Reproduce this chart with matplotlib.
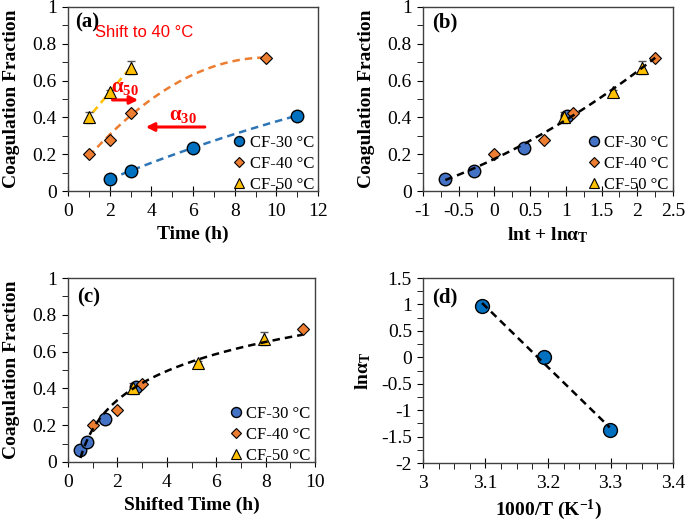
import numpy as np
import matplotlib
matplotlib.use("Agg")
import matplotlib.pyplot as plt
from matplotlib.ticker import MultipleLocator

plt.rcParams["font.family"] = ["Liberation Serif", "DejaVu Serif"]
plt.rcParams["mathtext.fontset"] = "custom"
plt.rcParams["mathtext.rm"] = "Liberation Serif"
plt.rcParams["mathtext.it"] = "Liberation Serif:italic"
plt.rcParams["mathtext.bf"] = "Liberation Serif:bold"

# raw coagulation data (time in h)
t30 = np.array([2, 3, 6, 11])
cf30 = np.array([0.065, 0.11, 0.235, 0.41])
t40 = np.array([1, 2, 3, 9.5])
cf40 = np.array([0.2, 0.28, 0.425, 0.725])
t50 = np.array([1, 2, 3])
cf50 = np.array([0.4, 0.54, 0.67])
err50 = np.array([0.03, 0.01, 0.035])

# shift factors (ln aT), reference 40 C
temps = np.array([30, 40, 50])
ln_aT = np.array([-1.38, 0.0, 0.97])

blue = "#0070C0"
blue2 = "#4472C4"
orange = "#ED7D31"
yellow = "#FFC000"
red = "#FF0000"

lab_fs = 14
tick_fs = 14
leg_fs = 12
dash = (0, (3, 2))


def style_axis(ax, xmaj, xmin, ymaj, ymin):
    ax.xaxis.set_major_locator(MultipleLocator(xmaj))
    ax.xaxis.set_minor_locator(MultipleLocator(xmin))
    ax.yaxis.set_major_locator(MultipleLocator(ymaj))
    ax.yaxis.set_minor_locator(MultipleLocator(ymin))
    ax.tick_params(axis="x", which="major", direction="inout", length=7,
                   labelsize=tick_fs, pad=5)
    ax.tick_params(axis="x", which="minor", direction="out", length=4)
    ax.tick_params(axis="y", which="both", direction="out", length=4,
                   labelsize=tick_fs, pad=4)
    for sp in ax.spines.values():
        sp.set_color("#404040")
        sp.set_linewidth(1)
    ax.xaxis.set_major_formatter(plt.FuncFormatter(lambda v, p: "%g" % v))
    ax.yaxis.set_major_formatter(plt.FuncFormatter(lambda v, p: "%g" % v))


def scatter_sets(ax, x30, x40, x50, c30):
    ax.plot(x30, cf30, "o", ms=9, mfc=c30, mec="black", mew=1,
            label="CF-30 °C", zorder=3)
    ax.plot(x40, cf40, "D", ms=6.5, mfc=orange, mec="black", mew=0.8,
            label="CF-40 °C", zorder=3)
    ax.errorbar(x50, cf50, yerr=err50, fmt="none", ecolor="#555555",
                elinewidth=1, capsize=3, zorder=2.5)
    ax.plot(x50, cf50, "^", ms=8.5, mfc=yellow, mec="black", mew=0.8,
            label="CF-50 °C", zorder=3)


def legend(ax):
    ax.legend(loc="lower right", bbox_to_anchor=(1.03, -0.075),
              frameon=False, fontsize=leg_fs, borderpad=0.2,
              handletextpad=0.05, labelspacing=0.3, handlelength=1.2,
              markerscale=0.8)


fig = plt.figure(figsize=(6.85, 5.22), dpi=100)
ax_a = fig.add_axes([0.0993, 0.634, 0.365, 0.3526])
ax_b = fig.add_axes([0.6175, 0.634, 0.365, 0.3526])
ax_c = fig.add_axes([0.0993, 0.115, 0.3606, 0.3524])
ax_d = fig.add_axes([0.6175, 0.113, 0.365, 0.3544])

# (a) raw data with trendlines
scatter_sets(ax_a, t30, t40, t50, blue)
p30 = np.polyfit(t30, cf30, 2)
p40 = np.polyfit(t40, cf40, 2)
p50 = np.polyfit(t50, cf50, 1)
xx = np.linspace(t30.min(), t30.max(), 100)
ax_a.plot(xx, np.polyval(p30, xx), color="#2E75B6", lw=1.8, ls=dash, zorder=2)
xx = np.linspace(t40.min(), t40.max(), 100)
ax_a.plot(xx, np.polyval(p40, xx), color=orange, lw=1.8, ls=dash, zorder=2)
xx = np.linspace(0.8, t50.max(), 50)
ax_a.plot(xx, np.polyval(p50, xx), color=yellow, lw=1.8, ls=dash, zorder=2)
ax_a.set_xlim(0, 12)
ax_a.set_ylim(0, 1)
style_axis(ax_a, 2, 1, 0.2, 0.1)
ax_a.set_xlabel("Time (h)", fontsize=lab_fs, fontweight="bold")
ax_a.set_ylabel("Coagulation Fraction", fontsize=lab_fs, fontweight="bold",
                labelpad=9)
ax_a.text(0.03, 0.97, "(a)", transform=ax_a.transAxes, fontsize=15,
          fontweight="bold", va="top")
ax_a.text(1.3, 0.86, "Shift to 40 °C", color=red, fontsize=12,
          family=["Liberation Sans", "DejaVu Sans"], va="center")
ax_a.annotate("", xy=(3.5, 0.495), xytext=(2.0, 0.495),
              arrowprops=dict(arrowstyle="-|>", color=red, lw=2.2,
                              mutation_scale=12))
ax_a.text(2.75, 0.56, r"$\mathbf{\alpha_{50}}$", color=red, fontsize=15,
          ha="center", va="center")
ax_a.annotate("", xy=(3.6, 0.348), xytext=(6.7, 0.348),
              arrowprops=dict(arrowstyle="-|>", color=red, lw=2.2,
                              mutation_scale=12))
ax_a.text(5.5, 0.41, r"$\mathbf{\alpha_{30}}$", color=red, fontsize=15,
          ha="center", va="center")
legend(ax_a)

# (b) master curve vs ln t + ln aT
xb30 = np.log(t30) + ln_aT[0]
xb40 = np.log(t40) + ln_aT[1]
xb50 = np.log(t50) + ln_aT[2]
scatter_sets(ax_b, xb30, xb40, xb50, blue2)
xall = np.concatenate([xb30, xb40, xb50])
yall = np.concatenate([cf30, cf40, cf50])
pb = np.polyfit(xall, yall, 2)
xx = np.linspace(xall.min(), xall.max(), 100)
ax_b.plot(xx, np.polyval(pb, xx), color="black", lw=1.8, ls=dash, zorder=4)
ax_b.set_xlim(-1, 2.5)
ax_b.set_ylim(0, 1)
style_axis(ax_b, 0.5, 0.25, 0.2, 0.1)
ax_b.set_xlabel(r"lnt + lnα$_{\mathbf{T}}$", fontsize=lab_fs,
                fontweight="bold")
ax_b.set_ylabel("Coagulation Fraction", fontsize=lab_fs, fontweight="bold",
                labelpad=9)
ax_b.text(0.035, 0.97, "(b)", transform=ax_b.transAxes, fontsize=15,
          fontweight="bold", va="top")
legend(ax_b)

# (c) master curve vs shifted time
xc30 = t30 * np.exp(ln_aT[0])
xc40 = t40 * np.exp(ln_aT[1])
xc50 = t50 * np.exp(ln_aT[2])
scatter_sets(ax_c, xc30, xc40, xc50, blue2)
pc = np.polyfit(xall, yall, 1)
xx = np.linspace(xc30.min(), xc40.max(), 200)
ax_c.plot(xx, np.polyval(pc, np.log(xx)), color="black", lw=1.8, ls=dash,
          zorder=4)
ax_c.set_xlim(0, 10)
ax_c.set_ylim(0, 1)
style_axis(ax_c, 2, 1, 0.2, 0.1)
ax_c.set_xlabel("Shifted Time (h)", fontsize=lab_fs, fontweight="bold")
ax_c.set_ylabel("Coagulation Fraction", fontsize=lab_fs, fontweight="bold",
                labelpad=9)
ax_c.text(0.035, 0.95, "(c)", transform=ax_c.transAxes, fontsize=15,
          fontweight="bold", va="top")
legend(ax_c)

# (d) Arrhenius plot of shift factors
inv_T = 1000.0 / (temps + 273.15)
ax_d.plot(inv_T, ln_aT, "o", ms=10, mfc=blue, mec="black", mew=1, zorder=3)
pd_ = np.polyfit(inv_T, ln_aT, 1)
xx = np.linspace(inv_T.min(), inv_T.max(), 50)
ax_d.plot(xx, np.polyval(pd_, xx), color="black", lw=1.8, ls=dash, zorder=4)
ax_d.set_xlim(3, 3.4)
ax_d.set_ylim(-2, 1.5)
style_axis(ax_d, 0.1, 0.025, 0.5, 0.25)
ax_d.set_xlabel(r"1000/T (K$^{\mathbf{-1}}$)", fontsize=lab_fs,
                fontweight="bold")
ax_d.set_ylabel(r"lnα$_{\mathbf{T}}$", fontsize=lab_fs, fontweight="bold",
                labelpad=6)
ax_d.text(0.035, 0.95, "(d)", transform=ax_d.transAxes, fontsize=15,
          fontweight="bold", va="top")

fig.savefig("out.png", dpi=100)
